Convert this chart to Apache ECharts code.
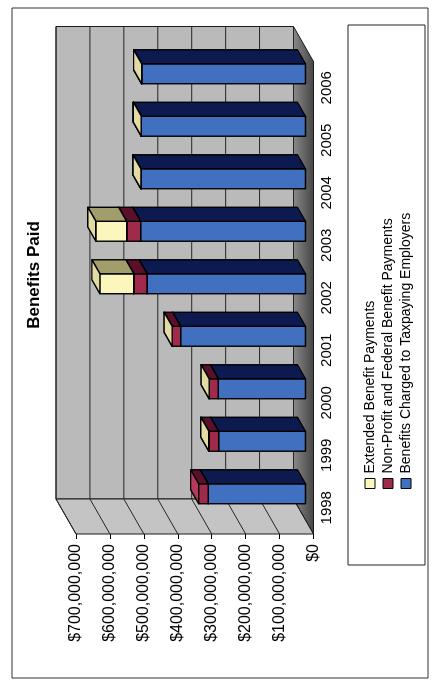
<!DOCTYPE html>
<html>
<head>
<meta charset="utf-8">
<script src="https://cdn.jsdelivr.net/npm/echarts@6/dist/echarts.min.js"></script>
<style>
  html, body { margin: 0; padding: 0; background: #fff; overflow: hidden; }
  /* The chart is laid out landscape and turned a quarter turn counter-clockwise. */
  #wrap { position: absolute; left: 0; top: 0; width: 687px; height: 433px;
          transform-origin: 0 0; transform: translate(0, 687px) rotate(-90deg); }
  #chart { width: 687px; height: 433px; }
</style>
</head>
<body>
<div id="wrap"><div id="chart"></div></div>
<script>
// Benefits paid per year, in millions of dollars
const years = ['1998', '1999', '2000', '2001', '2002', '2003', '2004', '2005', '2006'];
const taxpayingM = [287, 256, 257, 368, 467, 486, 485, 484, 483];
const nonProfitM = [28, 29, 27, 25, 39, 41, 0, 0, 0];
const extendedM  = [null, 0, 0, 0, 100, 91, 0, 0, 0];
const tickLabels = ['$0', '$100,000,000', '$200,000,000', '$300,000,000',
                    '$400,000,000', '$500,000,000', '$600,000,000', '$700,000,000'];
const seriesNames = ['Benefits Charged to Taxpaying Employers',
                     'Non-Profit and Federal Benefit Payments',
                     'Extended Benefit Payments'];

const FONT = 'Liberation Sans, Arial, sans-serif';
// depth of the floor / walls and of the boxes (x to the right, y upward)
const WALL_D = [35, -20];
const BAR_OFF = [14, -8];
const BAR_D = [14, -8];

const palette = [
  { front: '#4070bf', side: '#0c1a50', top: '#6088cc' },
  { front: '#a02a4c', side: '#5a0f2a', top: '#b23a5c' },
  { front: '#fbf6bb', side: '#a29e6c', top: '#e2dba4' }
];

const stackRaw = [taxpayingM, nonProfitM, extendedM];
// running base of each stack
const bases = years.map(() => 0);
const stackData = stackRaw.map(arr => {
  const rows = [];
  arr.forEach((v, i) => {
    if (v === null) return;
    rows.push([i, bases[i] * 1e6, v * 1e6]);
    bases[i] += v;
  });
  return rows;
});

function wallsRender(params, api) {
  const n = years.length;
  const band = api.size([1, 0])[0];
  const c0 = api.coord([0, 0]);
  const uS = c0[0] - band / 2;
  const uE = uS + band * n;
  const vB = c0[1];
  const vT = api.coord([0, 700e6])[1];
  const dx = WALL_D[0], dy = WALL_D[1];
  const kids = [];
  // floor
  kids.push({ type: 'polygon', shape: { points: [[uS, vB], [uE, vB], [uE + dx, vB + dy], [uS + dx, vB + dy]] },
    style: { fill: new echarts.graphic.LinearGradient(0, 0, 0, 1, [
      { offset: 0, color: '#8a8a8a' }, { offset: 1, color: '#444' }]), stroke: '#1a1a1a', lineWidth: 1 } });
  // back wall
  kids.push({ type: 'rect', shape: { x: uS + dx, y: vT + dy, width: uE - uS, height: vB - vT },
    style: { fill: '#bababa', stroke: '#1a1a1a', lineWidth: 1 } });
  // side wall
  kids.push({ type: 'polygon', shape: { points: [[uS, vT], [uS + dx, vT + dy], [uS + dx, vB + dy], [uS, vB]] },
    style: { fill: '#c4c4c4', stroke: '#1a1a1a', lineWidth: 1 } });
  // value gridlines on both walls
  for (let k = 0; k < tickLabels.length; k++) {
    const v = api.coord([0, k * 1e8])[1];
    kids.push({ type: 'line', shape: { x1: uS + dx, y1: v + dy, x2: uE + dx, y2: v + dy },
      style: { stroke: '#262626', lineWidth: 1 } });
    kids.push({ type: 'line', shape: { x1: uS, y1: v, x2: uS + dx, y2: v + dy },
      style: { stroke: '#262626', lineWidth: 1 } });
  }
  return { type: 'group', children: kids };
}

function boxRenderer(col) {
  return function (params, api) {
    const i = api.value(0), b = api.value(1), h = api.value(2);
    const band = api.size([1, 0])[0];
    const w = band * 0.38;
    const p0 = api.coord([i, b]);
    const p1 = api.coord([i, b + h]);
    const a = p0[0] - w / 2 + BAR_OFF[0];
    const r = a + w;
    const y0 = p0[1] + BAR_OFF[1];
    const y1 = p1[1] + BAR_OFF[1];
    const dx = BAR_D[0], dy = BAR_D[1];
    const line = { stroke: '#000', lineWidth: 1.4, lineJoin: 'round' };
    return {
      type: 'group',
      children: [
        { type: 'rect', shape: { x: a, y: y1, width: w, height: y0 - y1 },
          style: Object.assign({ fill: col.front }, line) },
        { type: 'polygon', shape: { points: [[r, y0], [r, y1], [r + dx, y1 + dy], [r + dx, y0 + dy]] },
          style: Object.assign({ fill: col.side }, line) },
        { type: 'polygon', shape: { points: [[a, y1], [r, y1], [r + dx, y1 + dy], [a + dx, y1 + dy]] },
          style: Object.assign({ fill: col.top }, line) }
      ]
    };
  };
}

const chart = echarts.init(document.getElementById('chart'), null, { renderer: 'canvas', width: 687, height: 433 });

const series = [{
  type: 'custom', name: 'walls', silent: true, z: 1,
  data: [[0, 0]], renderItem: wallsRender
}];
stackData.forEach((rows, s) => {
  series.push({
    type: 'custom', name: seriesNames[s], z: 2 + s,
    itemStyle: { color: palette[s].front },
    data: rows, renderItem: boxRenderer(palette[s])
  });
});

chart.setOption({
  animation: false,
  grid: { left: 153, top: 76, width: 472.5, height: 237.5 },
  xAxis: {
    type: 'category', data: years,
    axisLine: { lineStyle: { color: '#000', width: 1 } },
    axisTick: { length: 5, lineStyle: { color: '#000' } },
    axisLabel: { color: '#000', fontSize: 15, fontFamily: FONT, margin: 6 },
    splitLine: { show: false }
  },
  yAxis: {
    type: 'value', min: 0, max: 700e6, interval: 100e6,
    axisLine: { show: true, lineStyle: { color: '#000', width: 1 } },
    axisTick: { show: true, length: 5, lineStyle: { color: '#000' } },
    axisLabel: { formatter: v => tickLabels[Math.round(v / 1e8)], color: '#000', fontSize: 16, fontFamily: FONT, margin: 10 },
    splitLine: { show: false }
  },
  legend: {
    data: [seriesNames[2], seriesNames[1], seriesNames[0]],
    orient: 'vertical', left: 198, top: 363,
    itemWidth: 10, itemHeight: 10, itemGap: 4, icon: 'rect', padding: 0,
    itemStyle: { borderColor: '#000', borderWidth: 1 },
    textStyle: { color: '#000', fontSize: 14, fontFamily: FONT, lineHeight: 14 },
    selectedMode: false
  },
  graphic: [
    { type: 'rect', shape: { x: 9, y: 12, width: 670, height: 416 },
      style: { fill: 'none', stroke: '#333', lineWidth: 1 }, z: 0 },
    { type: 'rect', shape: { x: 122, y: 348, width: 540, height: 77 },
      style: { fill: '#fff', stroke: '#222', lineWidth: 1 }, z: 0 },
    { type: 'text', x: 412, y: 34,
      style: { text: 'Benefits Paid', font: 'bold 17px ' + FONT, fill: '#000', align: 'center', verticalAlign: 'middle' } }
  ],
  series: series
});
</script>
</body>
</html>
